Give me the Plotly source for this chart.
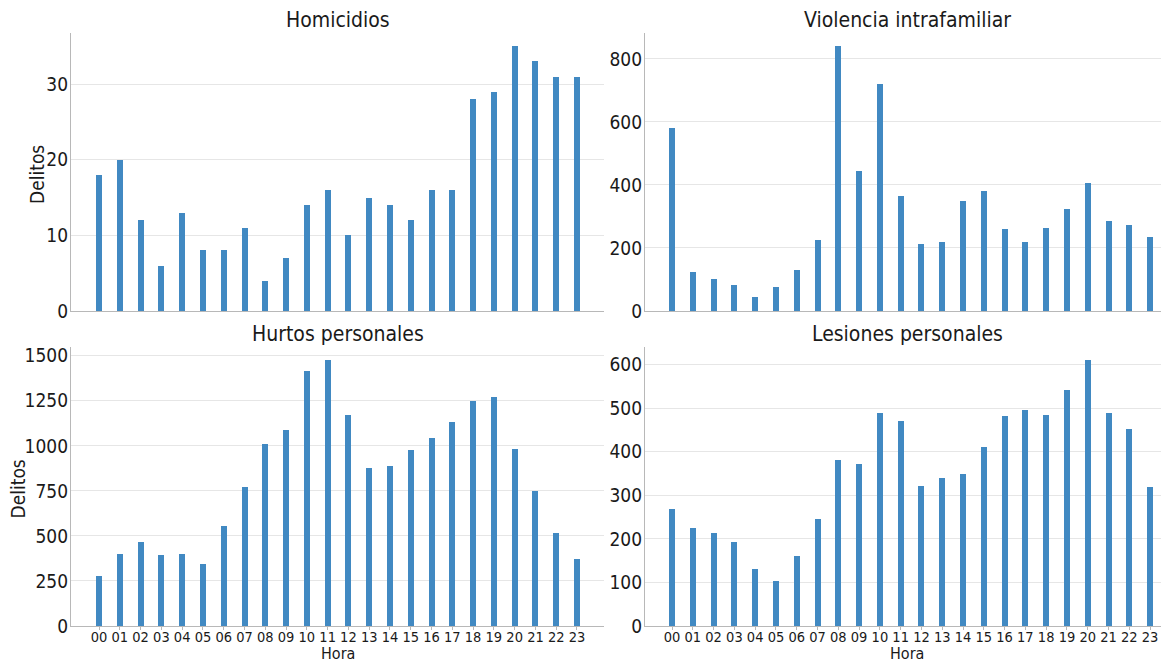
import plotly.graph_objects as go

horas = [f"{h:02d}" for h in range(24)]
homicidios = [18, 20, 12, 6, 13, 8, 8, 11, 4, 7, 14, 16, 10, 15, 14, 12, 16, 16, 28, 29, 35, 33, 31, 31]
violencia = [580, 125, 100, 82, 45, 75, 130, 225, 840, 445, 720, 365, 212, 218, 348, 382, 260, 218, 262, 325, 405, 285, 272, 235]
hurtos = [280, 400, 465, 392, 400, 345, 555, 770, 1008, 1090, 1415, 1475, 1172, 875, 890, 975, 1045, 1135, 1250, 1272, 983, 748, 515, 372]
lesiones = [268, 226, 213, 192, 130, 104, 161, 245, 382, 372, 490, 470, 322, 339, 348, 410, 482, 496, 484, 542, 610, 488, 452, 318]

titles = ["Homicidios", "Violencia intrafamiliar", "Hurtos personales", "Lesiones personales"]
series = [homicidios, violencia, hurtos, lesiones]
yticks = [[0, 10, 20, 30], [0, 200, 400, 600, 800], [0, 250, 500, 750, 1000, 1250, 1500], [0, 100, 200, 300, 400, 500, 600]]

OFF = 8  # page body margin
W, H = 1169 - OFF, 663 - OFF
FONT = "DejaVu Sans Condensed, DejaVu Sans"
BAR = "#4189c2"
TXT = "#1a1a1a"


def px(x):
    return (x - OFF) / W


def py(y):
    return 1 - (y - OFF) / H


# pixel layout (page coordinates)
xdom_px = [(71, 604), (645, 1169)]
xrng = [(-1.35, 24.3), (-1.3, 23.91)]
ydom_px = [(33, 311), (347, 626)]

fig = go.Figure()
annotations = []
for i, (vals, title) in enumerate(zip(series, titles)):
    r, c = divmod(i, 2)
    n = i + 1
    xa = "x" if n == 1 else f"x{n}"
    ya = "y" if n == 1 else f"y{n}"
    fig.add_trace(go.Bar(x=horas, y=vals, width=0.29, marker=dict(color=BAR, line=dict(width=0)),
                         xaxis=xa, yaxis=ya, showlegend=False))
    x0, x1 = xdom_px[c]
    y0, y1 = ydom_px[r]
    ymax = max(vals) * 1.05
    fig.layout[f"xaxis{'' if n == 1 else n}"] = dict(
        domain=[px(x0), min(1, px(x1))], anchor=ya, type="category", range=list(xrng[c]),
        showgrid=False, showline=True, linecolor="#b8b8b8", linewidth=1.2,
        ticks="outside" if r == 1 else "", ticklen=3, tickcolor="#b8b8b8",
        ticklabelstandoff=-6,
        showticklabels=(r == 1), tickfont=dict(family=FONT, size=14.5, color=TXT),
        automargin=False, zeroline=False, fixedrange=True)
    fig.layout[f"yaxis{'' if n == 1 else n}"] = dict(
        domain=[py(y1), py(y0)], anchor=xa, range=[0, ymax],
        tickvals=yticks[i], showgrid=True, gridcolor="#e6e6e6", gridwidth=1,
        showline=True, linecolor="#b8b8b8", linewidth=1.2, ticks="", ticklabelstandoff=-2,
        tickfont=dict(family=FONT, size=19, color=TXT),
        automargin=False, zeroline=False, fixedrange=True)
    annotations.append(dict(text=title, x=px((x0 + x1) / 2), y=py(y0 - 13),
                            xref="paper", yref="paper", showarrow=False,
                            xanchor="center", yanchor="middle",
                            font=dict(family=FONT, size=21, color=TXT)))
    if r == 1:
        annotations.append(dict(text="Hora", x=px((x0 + x1) / 2), y=py(653.5),
                                xref="paper", yref="paper", showarrow=False,
                                xanchor="center", yanchor="middle",
                                font=dict(family=FONT, size=16, color=TXT)))
    if c == 0:
        annotations.append(dict(text="Delitos", x=px(37 if r == 0 else 17),
                                y=py((y0 + y1) / 2 + 3), textangle=-90,
                                xref="paper", yref="paper", showarrow=False,
                                xanchor="center", yanchor="middle",
                                font=dict(family=FONT, size=19, color=TXT)))

fig.update_layout(width=W, height=H, margin=dict(l=0, r=0, t=0, b=0),
                  paper_bgcolor="white", plot_bgcolor="white",
                  annotations=annotations, bargap=0)
fig.write_html("out.html")
